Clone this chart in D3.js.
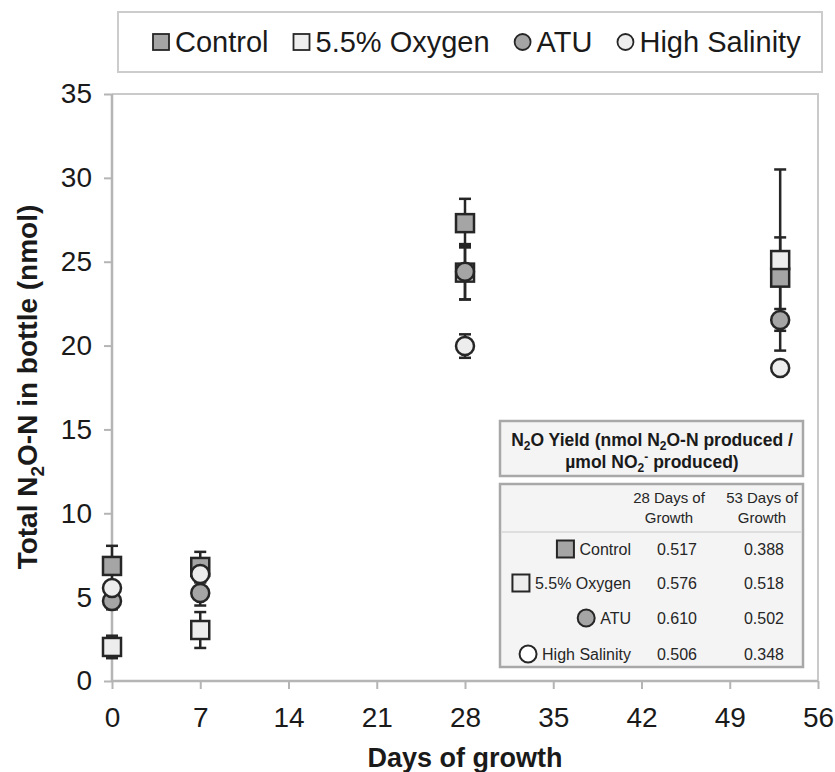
<!DOCTYPE html>
<html>
<head>
<meta charset="utf-8">
<script src="https://cdn.jsdelivr.net/npm/d3@7"></script>
<style>
  body { margin: 0; background: #fff; }
  svg { font-family: "Liberation Sans", Arial, Helvetica, sans-serif; }
</style>
</head>
<body>
<script>
// data
var days = [0, 7, 28, 53];
var seriesNames = ["Control", "5.5% Oxygen", "ATU", "High Salinity"];
var control = [6.86, 6.8, 27.3, 24.05];
var controlErr = [1.2, 0.9, 1.45, 2.4];
var oxygen = [2.03, 3.04, 24.35, 25.1];
var oxygenErr = [0.67, 1.07, 1.6, 5.4];
var atu = [4.77, 5.25, 24.4, 21.53];
var atuErr = [0.5, 0.75, 1.65, 0.65];
var salinity = [5.55, 6.38, 19.97, 18.66];
var salinityErr = [0.4, 0.5, 0.7, 0.3];
var xTicks = [0, 7, 14, 21, 28, 35, 42, 49, 56];
var yTicks = [0, 5, 10, 15, 20, 25, 30, 35];
var yield28 = ["0.517", "0.576", "0.610", "0.506"];
var yield53 = ["0.388", "0.518", "0.502", "0.348"];

var shapes = ["square", "square", "circle", "circle"];
var fills = ["#a5a5a5", "#ededed", "#a5a5a5", "#ededed"];
var tableFills = ["#a5a5a5", "#ededed", "#a5a5a5", "#ffffff"];
var values = [control, oxygen, atu, salinity];
var errs = [controlErr, oxygenErr, atuErr, salinityErr];

var W = 835, H = 772;
var plot = {left: 112, right: 818, top: 94, bottom: 681};
var ink = "#262626";

var svg = d3.select("body").append("svg").attr("width", W).attr("height", H);

var xScale = d3.scaleLinear().domain([0, 56]).range([plot.left, plot.right]);
var yScale = d3.scaleLinear().domain([0, 35]).range([plot.bottom, plot.top]);

// frame (top + right)
svg.append("path")
    .attr("d", "M" + plot.left + "," + plot.top + "H" + plot.right + "V" + plot.bottom)
    .attr("fill", "none").attr("stroke", "#cacaca").attr("stroke-width", 2);

var xAxis = d3.axisBottom(xScale).tickValues(xTicks).tickSize(8).tickPadding(18);
var yAxis = d3.axisLeft(yScale).tickValues(yTicks).tickSize(8).tickPadding(12);

var gx = svg.append("g").attr("transform", "translate(0," + plot.bottom + ")").call(xAxis);
var gy = svg.append("g").attr("transform", "translate(" + plot.left + ",0)").call(yAxis);
[gx, gy].forEach(function (g) {
    g.select(".domain").attr("stroke", "#b5b5b5").attr("stroke-width", 2.5);
    g.selectAll(".tick line").attr("stroke", "#b5b5b5").attr("stroke-width", 2);
    g.selectAll(".tick text").attr("fill", "#1a1a1a").style("font-size", "28px")
        .style("font-family", "'Liberation Sans', Arial, sans-serif");
});
gx.select(".domain").attr("d", "M" + plot.left + ",0H" + plot.right);
gy.select(".domain").attr("d", "M0," + plot.bottom + "V" + plot.top);

// axis titles
svg.append("text")
    .attr("x", (plot.left + plot.right) / 2).attr("y", 767)
    .attr("text-anchor", "middle").attr("font-weight", "bold").attr("font-size", 27)
    .attr("fill", "#1a1a1a")
    .text("Days of growth");

var yl = svg.append("text")
    .attr("transform", "translate(37,387) rotate(-90)")
    .attr("text-anchor", "middle").attr("font-weight", "bold").attr("font-size", 28)
    .attr("fill", "#1a1a1a");
yl.append("tspan").text("Total N");
yl.append("tspan").attr("font-size", 19).attr("dy", 7).text("2");
yl.append("tspan").attr("dy", -7).text("O-N in bottle (nmol)");

function drawMarker(g, shape, cx, cy, size, fill, sw) {
    if (shape === "square") {
        g.append("rect")
            .attr("x", cx - size / 2).attr("y", cy - size / 2)
            .attr("width", size).attr("height", size)
            .attr("fill", fill).attr("stroke", ink).attr("stroke-width", sw);
    } else {
        g.append("circle")
            .attr("cx", cx).attr("cy", cy).attr("r", size / 2)
            .attr("fill", fill).attr("stroke", ink).attr("stroke-width", sw);
    }
}

// error bars first, markers on top
var errG = svg.append("g");
var markG = svg.append("g");
values.forEach(function (vals, s) {
    days.forEach(function (d, i) {
        var x = xScale(d), lo = yScale(vals[i] - errs[s][i]), hi = yScale(vals[i] + errs[s][i]);
        errG.append("line").attr("x1", x).attr("x2", x).attr("y1", lo).attr("y2", hi)
            .attr("stroke", ink).attr("stroke-width", 2.5);
        [lo, hi].forEach(function (yy) {
            errG.append("line").attr("x1", x - 6).attr("x2", x + 6).attr("y1", yy).attr("y2", yy)
                .attr("stroke", ink).attr("stroke-width", 2.5);
        });
    });
});
values.forEach(function (vals, s) {
    days.forEach(function (d, i) {
        drawMarker(markG, shapes[s], xScale(d), yScale(vals[i]), 18, fills[s], 2.5);
    });
});

// legend box
svg.append("rect").attr("x", 118).attr("y", 12).attr("width", 704).attr("height", 60)
    .attr("fill", "#fff").attr("stroke", "#cccccc").attr("stroke-width", 2);
var lg = svg.append("g");
var lx = 153;
seriesNames.forEach(function (name, s) {
    drawMarker(lg, shapes[s], lx + 8, 42, 16, fills[s], 1.8);
    var t = lg.append("text").attr("x", lx + 22).attr("y", 52)
        .attr("font-size", 29).attr("fill", "#1a1a1a").text(name);
    lx += 22 + t.node().getComputedTextLength() + 25;
});

// inset yield table
var tg = svg.append("g");
tg.append("rect").attr("x", 500).attr("y", 421).attr("width", 303).attr("height", 55)
    .attr("fill", "#f4f4f4").attr("stroke", "#a8a8a8").attr("stroke-width", 2.5);
var t1 = tg.append("text").attr("x", 652).attr("y", 446).attr("text-anchor", "middle")
    .attr("font-weight", "bold").attr("font-size", 17.5).attr("fill", "#1a1a1a");
t1.append("tspan").text("N");
t1.append("tspan").attr("font-size", 12).attr("dy", 4).text("2");
t1.append("tspan").attr("dy", -4).text("O Yield (nmol N");
t1.append("tspan").attr("font-size", 12).attr("dy", 4).text("2");
t1.append("tspan").attr("dy", -4).text("O-N produced /");
var t2 = tg.append("text").attr("x", 652).attr("y", 468).attr("text-anchor", "middle")
    .attr("font-weight", "bold").attr("font-size", 17.5).attr("fill", "#1a1a1a");
t2.append("tspan").text("\u00b5mol NO");
t2.append("tspan").attr("font-size", 12).attr("dy", 4).text("2");
t2.append("tspan").attr("font-size", 12).attr("dy", -11).text("-");
t2.append("tspan").attr("dy", 7).text(" produced)");

tg.append("rect").attr("x", 500).attr("y", 484).attr("width", 303).attr("height", 183)
    .attr("fill", "#f4f4f4").attr("stroke", "#a8a8a8").attr("stroke-width", 2.5);
tg.append("line").attr("x1", 501).attr("x2", 802).attr("y1", 532).attr("y2", 532)
    .attr("stroke", "#dedede").attr("stroke-width", 2);

var col28 = 677, col53 = 762;
[["28 Days of", "Growth", col28 - 8], ["53 Days of", "Growth", col53]].forEach(function (h) {
    tg.append("text").attr("x", h[2]).attr("y", 503).attr("text-anchor", "middle")
        .attr("font-size", 15).attr("fill", "#262626").text(h[0]);
    tg.append("text").attr("x", h[2]).attr("y", 523).attr("text-anchor", "middle")
        .attr("font-size", 15).attr("fill", "#262626").text(h[1]);
});

var rowY = [555, 589, 624, 660];
seriesNames.forEach(function (name, s) {
    var t = tg.append("text").attr("x", 631).attr("y", rowY[s]).attr("text-anchor", "end")
        .attr("font-size", 16).attr("fill", "#262626").text(name);
    var w = t.node().getComputedTextLength();
    drawMarker(tg, shapes[s], 631 - w - 14, rowY[s] - 6, 17, tableFills[s], 2);
    tg.append("text").attr("x", col28).attr("y", rowY[s]).attr("text-anchor", "middle")
        .attr("font-size", 16).attr("fill", "#262626").text(yield28[s]);
    tg.append("text").attr("x", col53 + 2).attr("y", rowY[s]).attr("text-anchor", "middle")
        .attr("font-size", 16).attr("fill", "#262626").text(yield53[s]);
});
</script>
</body>
</html>
